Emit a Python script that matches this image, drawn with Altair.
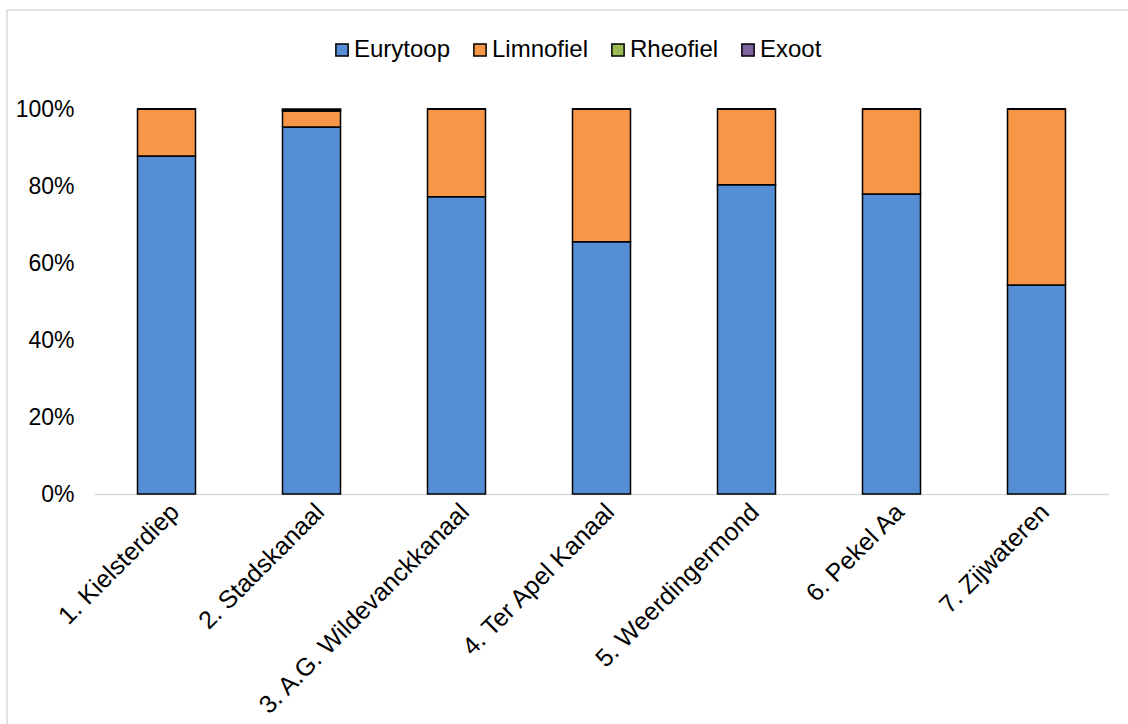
import altair as alt
import pandas as pd

# Share of fish guilds per water body (fractions of the total catch)
locations = [
    "1. Kielsterdiep",
    "2. Stadskanaal",
    "3. A.G. Wildevanckkanaal",
    "4. Ter Apel Kanaal",
    "5. Weerdingermond",
    "6. Pekel Aa",
    "7. Zijwateren",
]
guilds = ["Eurytoop", "Limnofiel", "Rheofiel", "Exoot"]
eurytoop = [0.878, 0.953, 0.772, 0.655, 0.803, 0.779, 0.543]
limnofiel = [0.122, 0.042, 0.228, 0.345, 0.197, 0.221, 0.457]
rheofiel = [0.0, 0.003, 0.0, 0.0, 0.0, 0.0, 0.0]
exoot = [0.0, 0.002, 0.0, 0.0, 0.0, 0.0, 0.0]
colors = ["#558ED5", "#F79646", "#9BBB59", "#8064A2"]

rows = []
for i, loc in enumerate(locations):
    for j, (g, vals) in enumerate(zip(guilds, [eurytoop, limnofiel, rheofiel, exoot])):
        rows.append({"locatie": loc, "gilde": g, "aandeel": vals[i], "volgorde": j})
df = pd.DataFrame(rows)

FONT = "Liberation Sans"
FS = 23
W, H = 1015, 385
LEFT, TOP = 94, 109

bars = alt.Chart(df).mark_bar(stroke="black", strokeWidth=1.5).encode(
    x=alt.X(
        "locatie:N",
        sort=locations,
        title=None,
        scale=alt.Scale(paddingInner=0.6, paddingOuter=0.3),
        axis=alt.Axis(
            labelAngle=-45,
            labelAlign="right",
            labelBaseline="top",
            labelFont=FONT,
            labelFontSize=25,
            labelColor="#000000",
            labelPadding=5,
            labelLimit=0,
            domainColor="#D9D9D9",
            domainWidth=1.5,
            ticks=False,
        ),
    ),
    y=alt.Y(
        "aandeel:Q",
        stack="zero",
        title=None,
        scale=alt.Scale(domain=[0, 1]),
        axis=alt.Axis(
            format="%",
            values=[0, 0.2, 0.4, 0.6, 0.8, 1.0],
            labelFont=FONT,
            labelFontSize=FS,
            labelColor="#000000",
            labelPadding=20,
            domain=False,
            ticks=False,
            grid=False,
        ),
    ),
    color=alt.Color(
        "gilde:N",
        sort=guilds,
        scale=alt.Scale(domain=guilds, range=colors),
        legend=alt.Legend(
            title=None,
            orient="none",
            direction="horizontal",
            legendX=236,
            legendY=-71,
            symbolType="square",
            symbolSize=150,
            symbolStrokeColor="black",
            symbolStrokeWidth=1.5,
            symbolOpacity=1,
            labelFont=FONT,
            labelFontSize=24,
            labelColor="#000000",
            labelOffset=0,
            columnPadding=17,
        ),
    ),
    order=alt.Order("volgorde:Q"),
)

# light grey outer frame around the chart
frame = alt.Chart(pd.DataFrame({"k": [0]})).mark_rect(
    fill=None, stroke="#D9D9D9", strokeWidth=1.5, clip=False
).encode(
    x=alt.value(7 - LEFT),
    x2=alt.value(1140 - LEFT),
    y=alt.value(10 - TOP),
    y2=alt.value(740 - TOP),
)

chart = (
    alt.layer(frame, bars)
    .properties(
        width=W,
        height=H,
        autosize="none",
        padding={"left": LEFT, "top": TOP, "right": 1128 - LEFT - W, "bottom": 724 - TOP - H},
        background="white",
    )
    .configure_view(stroke=None)
)

chart.save("out.html", embed_options={"renderer": "svg", "actions": False})
